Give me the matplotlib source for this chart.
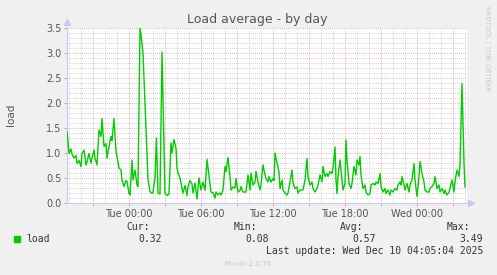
import numpy as np
import matplotlib
matplotlib.use('Agg')
import matplotlib.pyplot as plt
from matplotlib.ticker import FixedLocator

# Samples: minutes relative to Tue 00:00, and the 5-minute load average
minutes = [
    -310, -300, -290, -285, -275, -265, -260, -250, -240, -235,
    -225, -215, -210, -200, -190, -185, -175, -170, -160, -150,
    -140, -135, -125, -115, -110, -100, -90, -85, -75, -65,
    -60, -50, -40, -35, -25, -15, -10, 0, 5, 15,
    20, 30, 40, 45, 55, 62, 70, 80, 90, 95,
    105, 115, 120, 130, 137, 145, 155, 165, 175, 180,
    190, 200, 210, 215, 225, 235, 240, 245, 255, 265,
    270, 280, 290, 295, 305, 315, 320, 330, 340, 350,
    360, 370, 380, 390, 405, 410, 420, 430, 435, 445,
    455, 460, 470, 480, 485, 495, 505, 510, 520, 530,
    535, 545, 555, 560, 570, 585, 595, 605, 610, 620,
    630, 635, 645, 655, 660, 670, 680, 685, 695, 700,
    710, 720, 725, 730, 740, 750, 755, 765, 770, 780,
    790, 795, 805, 815, 820, 830, 840, 845, 855, 865,
    870, 880, 890, 895, 905, 915, 920, 930, 940, 945,
    955, 965, 970, 980, 990, 995, 1005, 1015, 1020, 1030,
    1035, 1040, 1045, 1055, 1060, 1070, 1080, 1085, 1090, 1100,
    1110, 1115, 1125, 1135, 1140, 1150, 1155, 1160, 1170, 1180,
    1185, 1195, 1205, 1210, 1220, 1230, 1235, 1245, 1255, 1260,
    1270, 1280, 1285, 1295, 1305, 1310, 1320, 1330, 1340, 1345,
    1355, 1360, 1365, 1375, 1380, 1390, 1400, 1405, 1415, 1425,
    1430, 1440, 1450, 1455, 1465, 1475, 1480, 1490, 1500, 1505,
    1515, 1525, 1530, 1540, 1550, 1555, 1565, 1575, 1580, 1590,
    1600, 1605, 1615, 1625, 1630, 1640, 1650, 1655, 1665, 1675,
    1680,
]
load = [
    1.43, 0.99, 1.08, 0.98, 0.90, 0.95, 0.79, 0.85, 0.73, 0.99,
    1.06, 0.76, 0.82, 0.99, 0.80, 0.90, 1.06, 0.90, 0.76, 1.46,
    1.33, 1.69, 1.13, 1.19, 0.90, 1.13, 1.33, 1.25, 1.69, 1.03,
    0.93, 0.70, 0.66, 0.46, 0.33, 0.45, 0.43, 0.19, 0.16, 0.86,
    0.46, 0.66, 0.36, 0.33, 3.49, 3.30, 3.00, 2.00, 1.00, 0.46,
    0.23, 0.19, 0.22, 0.50, 1.30, 0.20, 0.18, 3.02, 1.20, 0.20,
    0.15, 0.18, 1.20, 1.00, 1.27, 1.10, 0.70, 0.60, 0.50, 0.30,
    0.20, 0.35, 0.15, 0.33, 0.45, 0.38, 0.20, 0.40, 0.08, 0.50,
    0.26, 0.42, 0.25, 0.87, 0.39, 0.22, 0.20, 0.10, 0.22, 0.16,
    0.20, 0.16, 0.26, 0.73, 0.63, 0.91, 0.53, 0.26, 0.32, 0.30,
    0.49, 0.22, 0.25, 0.33, 0.22, 0.22, 0.56, 0.26, 0.60, 0.36,
    0.42, 0.63, 0.42, 0.26, 0.36, 0.76, 0.56, 0.49, 0.42, 0.53,
    0.42, 0.49, 0.45, 1.00, 0.80, 0.63, 0.29, 0.46, 0.26, 0.20,
    0.16, 0.20, 0.42, 0.66, 0.40, 0.29, 0.32, 0.20, 0.26, 0.26,
    0.26, 0.46, 0.89, 0.53, 0.36, 0.42, 0.29, 0.22, 0.29, 0.36,
    0.56, 0.42, 0.73, 0.53, 0.59, 0.53, 0.63, 0.59, 0.70, 1.12,
    0.46, 0.19, 0.53, 0.86, 0.66, 0.26, 0.39, 1.26, 0.86, 0.39,
    0.29, 0.39, 0.73, 0.56, 0.86, 0.76, 0.93, 0.56, 0.29, 0.36,
    0.22, 0.16, 0.19, 0.36, 0.39, 0.36, 0.42, 0.39, 0.59, 0.33,
    0.22, 0.29, 0.19, 0.26, 0.16, 0.26, 0.22, 0.29, 0.26, 0.36,
    0.42, 0.36, 0.53, 0.36, 0.26, 0.39, 0.22, 0.36, 0.46, 0.79,
    0.46, 0.13, 0.53, 0.83, 0.59, 0.42, 0.26, 0.22, 0.22, 0.29,
    0.33, 0.39, 0.53, 0.29, 0.36, 0.22, 0.29, 0.19, 0.26, 0.16,
    0.22, 0.29, 0.46, 0.22, 0.43, 0.66, 0.53, 0.76, 2.39, 0.79,
    0.32,
]

tick_minutes = [0, 360, 720, 1080, 1440]
tick_labels = ['Tue 00:00', 'Tue 06:00', 'Tue 12:00', 'Tue 18:00', 'Wed 00:00']
y_ticks = [0.0, 0.5, 1.0, 1.5, 2.0, 2.5, 3.0, 3.5]
stat_names = ['Cur:', 'Min:', 'Avg:', 'Max:']
stat_values = ['0.32', '0.08', '0.57', '3.49']

W, H = 497, 275
def fx(px):
    return px / W
def fy(py):
    return 1 - py / H

bg = '#F0F0F0'
axis_col = '#C8C8F0'
minor_col = '#C4C4C4'
major_col = '#E09898'
text_col = '#555555'

fig = plt.figure(figsize=(W / 100, H / 100), dpi=100, facecolor=bg)
ax = fig.add_axes([fx(67), fy(203), fx(467) - fx(67), fy(28) - fy(203)])
ax.set_facecolor('white')

# grid: minor gray, major red, both dotted
dots = (0, (1, 1.5))
for m in range(-300, 1690, 60):
    if m % 180 == 0:
        continue
    ax.axvline(m, color=minor_col, lw=0.6, ls=dots, zorder=1)
for m in range(-180, 1690, 180):
    ax.axvline(m, color=major_col, lw=0.6, ls=dots, zorder=1)
for i in range(1, 36):
    col = major_col if i % 5 == 0 else minor_col
    ax.axhline(i / 10, color=col, lw=0.6, ls=dots, zorder=1)

ax.plot(minutes, load, color='#00CC00', lw=1.0, zorder=3)

ax.set_xlim(-310, 1690)
ax.set_ylim(0, 3.5)

for s in ['top', 'right']:
    ax.spines[s].set_visible(False)
for s in ['left', 'bottom']:
    ax.spines[s].set_color(axis_col)
    ax.spines[s].set_linewidth(0.8)

# axis arrows
ax.plot([0], [1.035], marker='^', ms=4, color=axis_col, transform=ax.transAxes, clip_on=False)
ax.plot([1.01], [0], marker='>', ms=4, color=axis_col, transform=ax.transAxes, clip_on=False)

ax.xaxis.set_major_locator(FixedLocator(tick_minutes))
ax.set_xticklabels(tick_labels)
ax.xaxis.set_minor_locator(FixedLocator(list(range(-180, 1690, 180))))
ax.yaxis.set_major_locator(FixedLocator(y_ticks))
ax.set_yticklabels(['%.1f' % v for v in y_ticks])
ax.tick_params(axis='both', which='both', length=2, color=major_col,
               labelsize=7, labelcolor=text_col, pad=2)

fig.text(fx(257), fy(19), 'Load average - by day', ha='center', va='center',
         fontsize=9, color=text_col)
fig.text(fx(11), fy(115), 'load', rotation=90, ha='center', va='center',
         fontsize=7.5, color=text_col)
fig.text(fx(487), fy(6), 'RRDTOOL / TOBI OETIKER', rotation=-90, ha='center', va='top',
         fontsize=4.8, color='#C8C8C8')

# legend block
mono = 'DejaVu Sans Mono'
fig.patches.append(plt.Rectangle((fx(14), fy(242)), fx(6), fy(236) - fy(242),
                                 transform=fig.transFigure, color='#00CC00'))
fig.text(fx(26), fy(239), 'load', family=mono, fontsize=7, color='#333333', va='center')
name_right = [150, 257, 363, 470]
val_right = [162, 269, 376, 483]
for name, val, nr, vr in zip(stat_names, stat_values, name_right, val_right):
    fig.text(fx(nr), fy(227), name, family=mono, fontsize=7, color='#333333',
             ha='right', va='center')
    fig.text(fx(vr), fy(239), val, family=mono, fontsize=7, color='#333333',
             ha='right', va='center')
fig.text(fx(483), fy(251), 'Last update: Wed Dec 10 04:05:04 2025', family=mono,
         fontsize=7, color='#333333', ha='right', va='center')
fig.text(fx(248), fy(264), 'Munin 2.0.76', fontsize=5, color='#C8C8C8',
         ha='center', va='center')

fig.savefig('out.png', dpi=100, facecolor=bg)
